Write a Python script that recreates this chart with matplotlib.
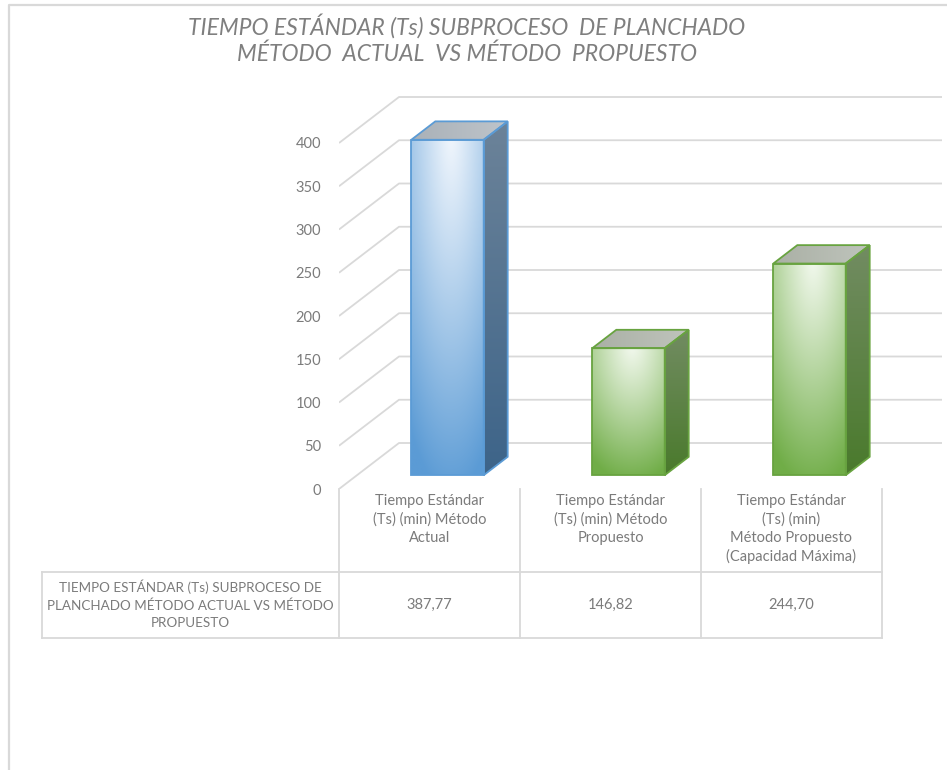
import numpy as np
import matplotlib
matplotlib.use("Agg")
import matplotlib.pyplot as plt
from matplotlib.patches import Polygon
from matplotlib.transforms import blended_transform_factory

plt.rcParams['font.family'] = ['Lato', 'DejaVu Sans']

# datos
categorias = ["Tiempo Estándar\n(Ts) (min) Método\nActual",
              "Tiempo Estándar\n(Ts) (min) Método\nPropuesto",
              "Tiempo Estándar\n(Ts) (min)\nMétodo Propuesto\n(Capacidad Máxima)"]
tiempos = [387.77, 146.82, 244.70]
serie = "TIEMPO ESTÁNDAR (Ts) SUBPROCESO DE\nPLANCHADO MÉTODO ACTUAL VS MÉTODO\nPROPUESTO"
titulo = "TIEMPO ESTÁNDAR (Ts) SUBPROCESO  DE PLANCHADO\nMÉTODO  ACTUAL  VS MÉTODO  PROPUESTO"
ticks_y = [0, 50, 100, 150, 200, 250, 300, 350, 400]

# colores (claro, base, lateral arriba, lateral abajo, tapa, borde)
azul = ('#f2f7fd', '#5b9bd5', '#6c8399', '#3d6489', '#a9b1b8', '#5b9bd5')
verde = ('#f3f9ef', '#70ad47', '#728c62', '#4a7a2c', '#aab0a5', '#68a340')
estilos = [azul, verde, verde]

GRIS = '#d9d9d9'
TEXTO = '#7b7b7b'

W, H = 947, 770
fig = plt.figure(figsize=(W / 100, H / 100), dpi=100)

# fondo en pixeles para marco, titulo y tabla
bg = fig.add_axes([0, 0, 1, 1], zorder=-1)
bg.set_xlim(0, W)
bg.set_ylim(H, 0)
bg.axis('off')

# area del grafico: x en categorias, y en minutos
px_cat = 181.0
px_val = 0.865
ax = fig.add_axes([339 / W, 1 - 489 / H, (W - 339) / W, (489 - 90) / H])
ax.set_xlim(-0.5, -0.5 + (W - 339) / px_cat)
ax.set_ylim(0, (489 - 90) / px_val)
ax.patch.set_alpha(0)
for s in ax.spines.values():
    s.set_visible(False)
ax.set_xticks([])
ax.set_yticks(ticks_y)
ax.tick_params(axis='y', length=0, pad=13, labelsize=10.5, labelcolor=TEXTO)

# desplazamiento en profundidad (proyeccion oblicua)
DX = 60 / px_cat
DY = 46 / px_val


def proj(x, v, d):
    return (x + d * DX, v + d * DY)


# lineas de division: pared lateral + pared del fondo
n = len(tiempos)
for v in ticks_y:
    ax.plot([-0.5, -0.5 + DX, n - 0.5 + DX], [v, v + DY, v + DY],
            color=GRIS, lw=1.3, zorder=1, solid_capstyle='butt')


def mezcla(c1, c2, t):
    a = np.array(matplotlib.colors.to_rgb(c1))
    b = np.array(matplotlib.colors.to_rgb(c2))
    t = np.clip(t, 0, 1)[..., None]
    return a * (1 - t) + b * t


def cara(puntos, img, borde, z):
    pts = np.array(puntos)
    poly = Polygon(pts, closed=True, facecolor='none', edgecolor=borde,
                   lw=1.3, zorder=z + 0.5, joinstyle='miter')
    ax.add_patch(poly)
    im = ax.imshow(img, extent=[pts[:, 0].min(), pts[:, 0].max(),
                                pts[:, 1].min(), pts[:, 1].max()],
                   origin='upper', aspect='auto', interpolation='bilinear',
                   zorder=z)
    im.set_clip_path(poly)


d0, d1, ancho = 0.3, 0.7, 0.4
uu, tt = np.meshgrid(np.linspace(0, 1, 80), np.linspace(0, 1, 200))
for i, (v, est) in enumerate(zip(tiempos, estilos)):
    claro, base, lat1, lat2, tapa, borde = est
    x0, x1 = i - ancho / 2, i + ancho / 2
    z = 3 + i

    # cara frontal con degradado radial desde arriba al centro
    r = np.sqrt(((uu - 0.55) * 1.1) ** 2 + (tt + 0.04) ** 2) / 1.1
    img = mezcla(claro, base, r ** 1.1)
    cara([proj(x0, 0, d0), proj(x1, 0, d0), proj(x1, v, d0), proj(x0, v, d0)],
         img, borde, z)

    # cara lateral
    img = mezcla(lat1, lat2, tt)
    cara([proj(x1, 0, d0), proj(x1, 0, d1), proj(x1, v, d1), proj(x1, v, d0)],
         img, borde, z)

    # tapa
    img = mezcla(tapa, matplotlib.colors.to_hex(mezcla(tapa, '#ffffff', np.array(0.25))), uu)
    cara([proj(x0, v, d0), proj(x1, v, d0), proj(x1, v, d1), proj(x0, v, d1)],
         img, borde, z)

ax.set_xlim(-0.5, -0.5 + (W - 339) / px_cat)
ax.set_ylim(0, (489 - 90) / px_val)

# marco exterior
bg.plot([8.5, 8.5, W], [H, 4.5, 4.5], color=GRIS, lw=1.6)

# titulo
bg.text(467, 39, titulo, ha='center', va='center', fontsize=16.5,
        fontstyle='italic', color='#7f7f7f', linespacing=1.27)

# tabla de datos: x en categorias, y en pixeles
tb = blended_transform_factory(ax.transData, bg.transData)
y_top, y_mid, y_bot = 489, 572, 638
for k in range(n + 1):
    bg.plot([k - 0.5, k - 0.5], [y_top, y_bot], color=GRIS, lw=1.3,
            transform=tb, clip_on=False)
for yy in (y_mid, y_bot):
    bg.plot([-0.5, n - 0.5], [yy, yy], color=GRIS, lw=1.3, transform=tb,
            clip_on=False)
    bg.plot([42, 339], [yy, yy], color=GRIS, lw=1.3)
bg.plot([42, 42], [y_mid, y_bot], color=GRIS, lw=1.3)

for i, (cat, v) in enumerate(zip(categorias, tiempos)):
    bg.text(i, 494, cat, transform=tb, ha='center', va='top', fontsize=10.5,
            color=TEXTO, linespacing=1.38)
    bg.text(i, 605, f"{v:.2f}".replace('.', ','), transform=tb,
            ha='center', va='center', fontsize=10.5, color=TEXTO)

bg.text(190, 604, serie, ha='center', va='center', fontsize=9.7,
        color=TEXTO, linespacing=1.5)

fig.savefig("out.png", dpi=100)
